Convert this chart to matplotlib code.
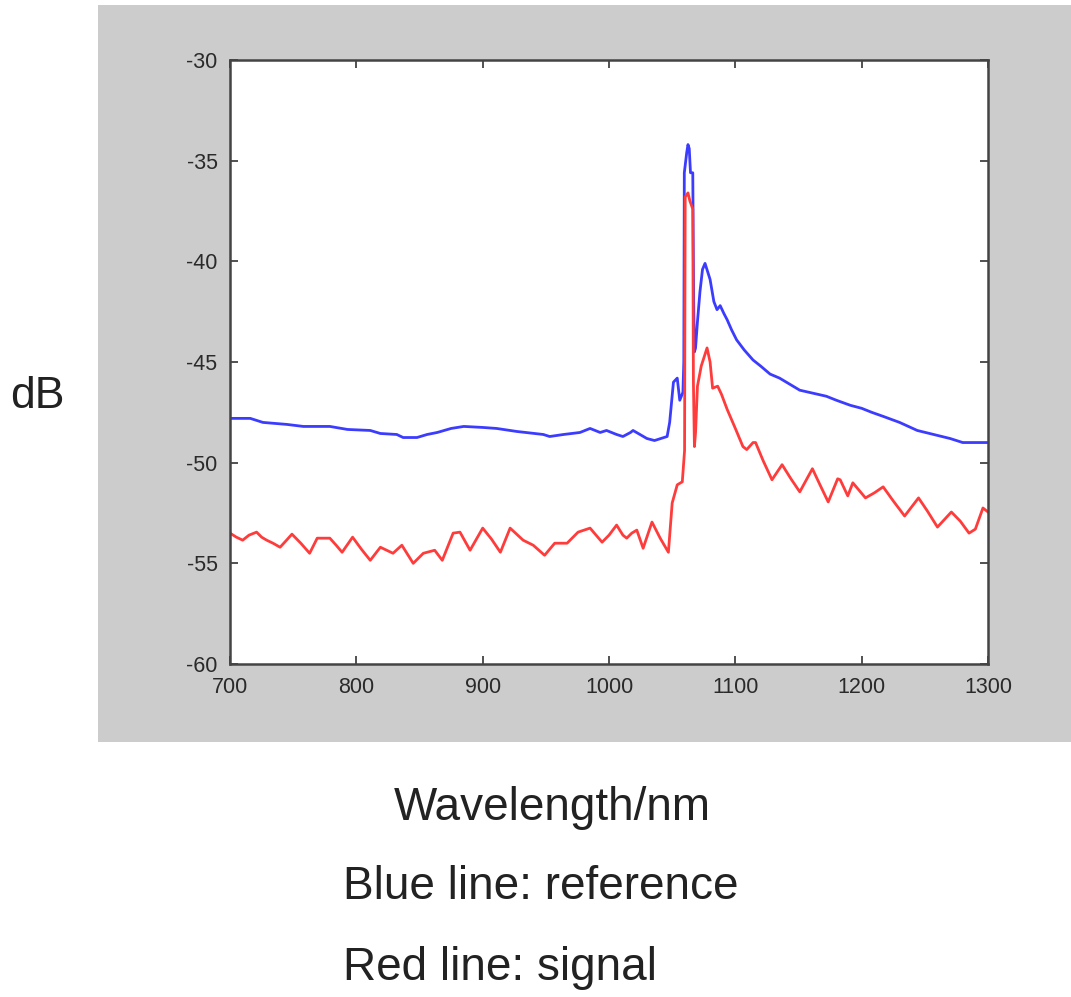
import matplotlib.pyplot as plt
from matplotlib.patches import Rectangle

plt.rcParams['font.family'] = ['Liberation Sans', 'DejaVu Sans']
plt.rcParams['axes.unicode_minus'] = False

# reference trace (blue)
wl_ref = [700, 716, 726, 745, 758, 779, 793, 811, 819, 832, 837, 848, 856, 864,
          875, 885, 900, 911, 927, 948, 953, 964, 977, 985, 993, 998, 1006, 1011,
          1017, 1019, 1030, 1036, 1046, 1048, 1051, 1054, 1056, 1058.5, 1059.2,
          1059.6, 1061.5, 1062.5, 1063.5, 1064.5, 1066.3, 1067.0, 1067.6, 1068.5,
          1070, 1072, 1074, 1076, 1078, 1080, 1083, 1085.5, 1088, 1091, 1093.5,
          1097, 1101, 1107, 1114, 1120, 1127.5, 1135, 1143, 1151, 1158, 1165,
          1172, 1180, 1191, 1200, 1208, 1217, 1230, 1244, 1257, 1270, 1280, 1290,
          1300]
db_ref = [-47.8, -47.8, -48.0, -48.1, -48.2, -48.2, -48.35, -48.4, -48.55, -48.6,
          -48.75, -48.75, -48.6, -48.5, -48.3, -48.2, -48.25, -48.3, -48.45, -48.6,
          -48.7, -48.6, -48.5, -48.3, -48.5, -48.4, -48.6, -48.7, -48.5, -48.4,
          -48.8, -48.9, -48.7, -48.0, -46.0, -45.8, -46.9, -46.5, -45.0, -35.6,
          -34.6, -34.2, -34.4, -35.6, -35.6, -41.9, -44.5, -44.3, -43.0, -41.5,
          -40.4, -40.1, -40.5, -40.9, -42.0, -42.4, -42.2, -42.6, -42.9, -43.4,
          -43.9, -44.4, -44.9, -45.2, -45.6, -45.8, -46.1, -46.4, -46.5, -46.6,
          -46.7, -46.9, -47.15, -47.3, -47.5, -47.7, -48.0, -48.4, -48.6, -48.8,
          -49.0, -49.0, -49.0]

# signal trace (red)
wl_sig = [700, 705, 710, 715, 721, 725, 729, 734, 739.6, 744, 749, 756, 763, 769,
          774, 779, 784, 788.7, 797, 804, 811, 819, 829, 836, 845, 853, 862, 868,
          876.6, 882, 890, 900, 907, 914, 921.7, 932, 940, 949, 957, 966.8, 975.5,
          985, 994.5, 1000, 1006, 1011, 1014, 1018, 1022, 1027, 1034, 1040.5,
          1047, 1050, 1054, 1058, 1059.8, 1060.3, 1062.5, 1064, 1066.3, 1066.8,
          1067.6, 1068.5, 1070, 1073, 1077.6, 1080, 1082, 1086, 1089, 1093.5,
          1100, 1106, 1109, 1114, 1116, 1122, 1129, 1137, 1144, 1151, 1161, 1167,
          1173.5, 1181, 1183, 1189, 1193, 1203, 1210, 1217, 1225, 1234, 1245,
          1252, 1260, 1271, 1278, 1285, 1290, 1296, 1300]
db_sig = [-53.5, -53.7, -53.85, -53.6, -53.45, -53.7, -53.85, -54.0, -54.2, -53.9,
          -53.55, -54.0, -54.5, -53.75, -53.75, -53.75, -54.1, -54.45, -53.7,
          -54.3, -54.85, -54.2, -54.5, -54.1, -55.0, -54.5, -54.35, -54.85, -53.5,
          -53.45, -54.35, -53.25, -53.8, -54.45, -53.25, -53.85, -54.1, -54.6,
          -54.0, -54.0, -53.45, -53.25, -53.95, -53.6, -53.1, -53.6, -53.75, -53.5,
          -53.35, -54.25, -52.95, -53.75, -54.45, -52.0, -51.1, -50.95, -49.4,
          -36.8, -36.6, -37.0, -37.4, -46.0, -49.2, -48.5, -46.2, -45.2, -44.3,
          -45.0, -46.3, -46.2, -46.6, -47.35, -48.3, -49.2, -49.35, -49.0, -49.0,
          -49.9, -50.85, -50.1, -50.8, -51.45, -50.3, -51.1, -51.95, -50.8,
          -50.85, -51.65, -51.0, -51.75, -51.5, -51.2, -51.9, -52.65, -51.75,
          -52.4, -53.2, -52.45, -52.9, -53.5, -53.3, -52.25, -52.45]

x_ticks = [700, 800, 900, 1000, 1100, 1200, 1300]
y_ticks = [-60, -55, -50, -45, -40, -35, -30]

fig = plt.figure(figsize=(10.71, 9.97), dpi=100)

# gray panel behind the axes, like a matlab figure window
fig.patches.append(Rectangle((0.0915, 0.256), 0.9085, 0.739, transform=fig.transFigure,
                             facecolor='#cccccc', edgecolor='none', zorder=-10))

ax = fig.add_axes([0.2148, 0.334, 0.7077, 0.6058])
ax.set_zorder(5)
ax.plot(wl_ref, db_ref, color='#3c3cff', lw=2.0, solid_joinstyle='round')
ax.plot(wl_sig, db_sig, color='#ff3c3c', lw=2.0, solid_joinstyle='round')

ax.set_xlim(700, 1300)
ax.set_ylim(-60, -30)
ax.set_xticks(x_ticks)
ax.set_yticks(y_ticks)
ax.tick_params(direction='in', length=6, width=1.2, top=True, right=True,
               labelsize=15.5, labelcolor='#2a2a2a', color='#333333', pad=9)
for s in ax.spines.values():
    s.set_color('#444444')
    s.set_linewidth(1.8)

fig.text(37 / 1071, 1 - 397 / 997, 'dB', fontsize=32, color='#222222',
         ha='center', va='center')
fig.text(552 / 1071, 1 - 808 / 997, 'Wavelength/nm', fontsize=33, color='#222222',
         ha='center', va='center')
fig.text(343 / 1071, 1 - 887 / 997, 'Blue line: reference', fontsize=33,
         color='#222222', ha='left', va='center')
fig.text(343 / 1071, 1 - 968 / 997, 'Red line: signal', fontsize=33,
         color='#222222', ha='left', va='center')

plt.savefig('out.png', dpi=100)
plt.close()
